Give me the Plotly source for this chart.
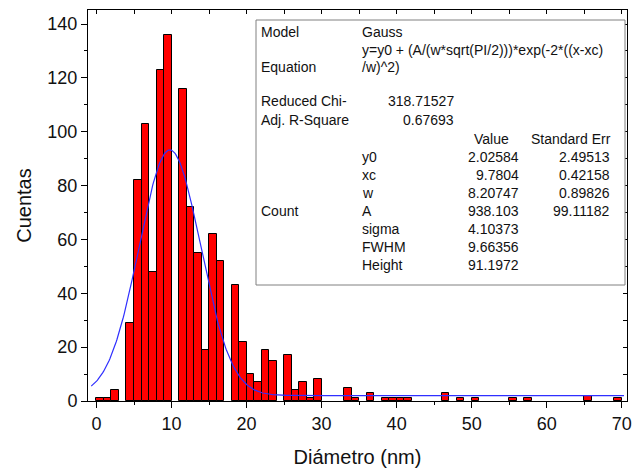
import numpy as np
import plotly.graph_objects as go

# ---- data ----
bin_start = [0, 1, 2, 4, 5, 6, 7, 8, 9, 11, 12, 13, 14, 15, 16, 18, 19, 20, 21, 22, 23,
             25, 26, 27, 28, 29, 33, 34, 36, 38, 39, 40, 41, 46, 48, 50, 55, 57, 65, 69]
counts = [1, 1, 4, 29, 82, 103, 48, 123, 136, 116, 72, 55, 19, 62, 52, 43, 22, 10, 7, 19, 15,
          17, 4, 7, 1, 8, 5, 1, 3, 1, 1, 1, 1, 3, 1, 1, 1, 1, 2, 1]
bin_width = 1.0

# Gauss fit parameters (as printed in the chart)
y0 = 2.02584
xc = 9.7804
w = 8.20747
A = 938.103

x_ticks = [0, 10, 20, 30, 40, 50, 60, 70]
y_ticks = [0, 20, 40, 60, 80, 100, 120, 140]

table_left = [("Model", 0), ("Equation", 2), ("Reduced Chi-", 4), ("Adj. R-Square", 5), ("Count", 10)]
table_mid = [("Gauss", 0), ("y=y0 + (A/(w*sqrt(PI/2)))*exp(-2*((x-xc)", 1), ("/w)^2)", 2),
             ("y0", 7), ("xc", 8), ("w", 9), ("A", 10), ("sigma", 11), ("FWHM", 12), ("Height", 13)]
stat_vals = [("318.71527", 4), ("0.67693", 5)]
param_vals = [("2.02584", 7), ("9.7804", 8), ("8.20747", 9), ("938.103", 10),
              ("4.10373", 11), ("9.66356", 12), ("91.1972", 13)]
param_errs = [("2.49513", 7), ("0.42158", 8), ("0.89826", 9), ("99.11182", 10)]

# ---- figure ----
centers = [b + bin_width / 2 for b in bin_start]
xf = np.linspace(-0.7, 70.3, 600)
yf = y0 + (A / (w * np.sqrt(np.pi / 2))) * np.exp(-2 * ((xf - xc) / w) ** 2)

fig = go.Figure()
fig.add_trace(go.Bar(x=centers, y=counts, width=bin_width,
                     marker=dict(color="#ff0000", line=dict(color="#000000", width=1)),
                     showlegend=False))
fig.add_trace(go.Scatter(x=xf, y=yf, mode="lines", line=dict(color="#2f2fff", width=1.2),
                         showlegend=False))
# invisible trace to anchor the top/right tick axes
fig.add_trace(go.Scatter(x=[0], y=[0], xaxis="x2", yaxis="y2", mode="markers",
                         marker=dict(opacity=0), showlegend=False, hoverinfo="skip"))

FONT = "Liberation Sans, Arial, sans-serif"
XR = [-1.13, 70.7]
YR = [0, 145.2]

fig.update_layout(
    width=639, height=472,
    margin=dict(l=88, r=12, t=10, b=71),
    paper_bgcolor="white", plot_bgcolor="white",
    bargap=0,
    font=dict(family=FONT, color="#111111"),
    xaxis=dict(range=XR, tickvals=x_ticks, ticks="outside", ticklen=6, tickwidth=1,
               tickcolor="black", showline=True, linecolor="black", linewidth=1,
               showgrid=False, zeroline=False, tickfont=dict(size=18), automargin=False,
               minor=dict(dtick=5, tick0=0, ticks="outside", ticklen=3, tickcolor="black"),
               title=dict(text="Diámetro (nm)", font=dict(size=20), standoff=17)),
    yaxis=dict(range=YR, tickvals=y_ticks, ticks="outside", ticklen=6, tickwidth=1,
               tickcolor="black", showline=True, linecolor="black", linewidth=1,
               showgrid=False, zeroline=False, tickfont=dict(size=18), automargin=False,
               minor=dict(dtick=10, tick0=0, ticks="outside", ticklen=3, tickcolor="black"),
               title=dict(text="Cuentas", font=dict(size=20), standoff=10)),
    xaxis2=dict(overlaying="x", side="top", range=XR, tickvals=list(range(0, 71, 5)),
                ticks="inside", ticklen=4, tickcolor="black", showticklabels=False,
                showline=True, linecolor="black", linewidth=1, showgrid=False, zeroline=False),
    yaxis2=dict(overlaying="y", side="right", range=YR, tickvals=list(range(0, 141, 10)),
                ticks="inside", ticklen=4, tickcolor="black", showticklabels=False,
                showline=True, linecolor="black", linewidth=1, showgrid=False, zeroline=False),
)

# ---- fit results table ----
L, R, T, B = 88, 627, 10, 401
def px(x):
    return (x - L) / (R - L)
def py(y):
    return (B - y) / (B - T)

row_y = {0: 32, 1: 50, 2: 67, 4: 101, 5: 120, 6: 139, 7: 157, 8: 175, 9: 193,
         10: 211, 11: 229, 12: 247, 13: 265}

fig.add_shape(type="rect", xref="paper", yref="paper",
              x0=px(256), x1=px(625), y0=py(285), y1=py(20),
              line=dict(color="#808080", width=1), fillcolor="white", layer="above")

def ann(text, x, y, anchor):
    fig.add_annotation(text=text, xref="paper", yref="paper", x=px(x), y=py(y),
                       xanchor=anchor, yanchor="middle", showarrow=False,
                       font=dict(size=14, family=FONT, color="#111111"))

for t, r in table_left:
    ann(t, 259, row_y[r], "left")
for t, r in table_mid:
    ann(t, 360, row_y[r], "left")
for t, r in stat_vals:
    ann(t, 456, row_y[r], "right")
ann("Value", 491, row_y[6], "center")
ann("Standard Err", 571, row_y[6], "center")
for t, r in param_vals:
    ann(t, 521, row_y[r], "right")
for t, r in param_errs:
    ann(t, 612, row_y[r], "right")

fig.write_html("out.html")
